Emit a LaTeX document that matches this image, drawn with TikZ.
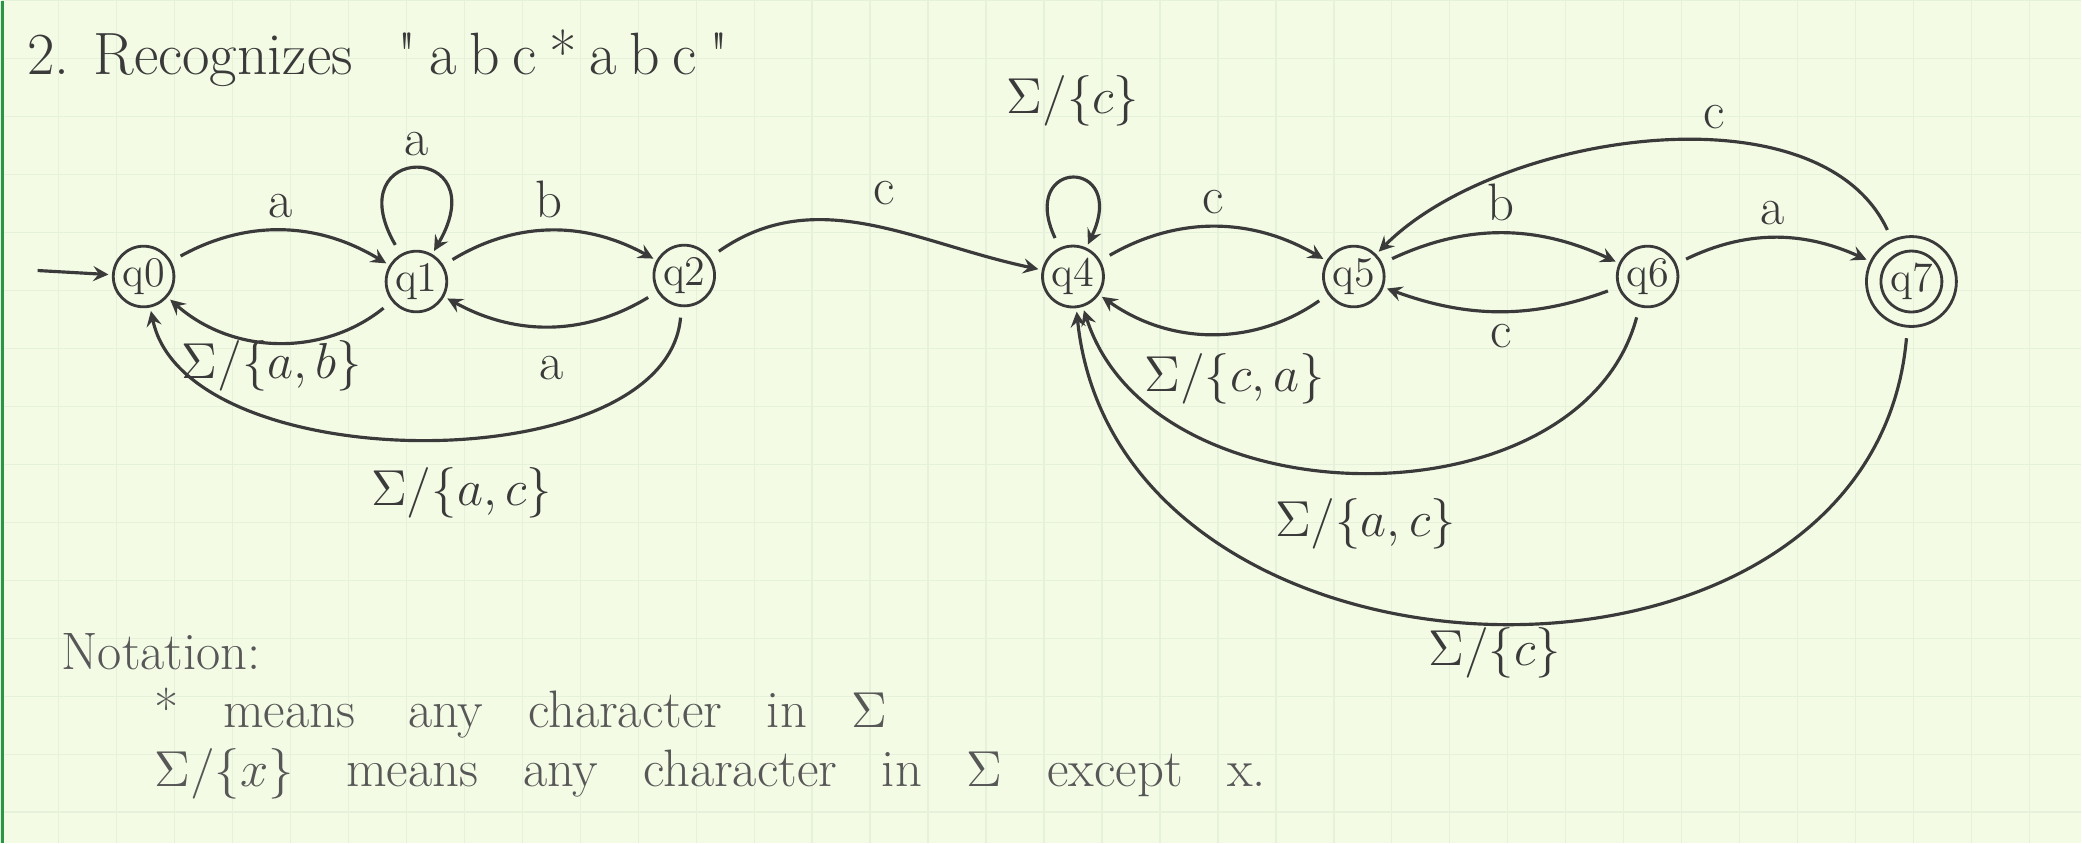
\documentclass[tikz,border=0pt]{standalone}
\usetikzlibrary{arrows}
\definecolor{paper}{RGB}{243,251,229}
\definecolor{gridline}{RGB}{229,241,219}
\definecolor{pencil}{RGB}{58,58,58}
\definecolor{margin}{RGB}{40,150,70}
\newcommand{\widespaces}{\spaceskip=0.85em\relax}

\begin{document}
\begin{tikzpicture}[
  state/.style={circle,draw=pencil,line width=0.8pt,minimum size=5.8mm,inner sep=0.5pt,text=pencil,font=\fontsize{12}{14}\selectfont},
  ring/.style={circle,draw=pencil,line width=0.8pt,minimum size=9mm,inner sep=0pt},
  trans/.style={->,>=stealth,pencil,line width=0.9pt,shorten <=3pt,shorten >=1pt},
  lab/.style={text=pencil,font=\fontsize{15}{18}\selectfont},
  note/.style={anchor=west,inner sep=0pt,text=pencil!85,font=\fontsize{15}{18}\selectfont\widespaces}
]
\fill[paper] (0,0) rectangle (20.82,-8.43);
\draw[gridline,line width=0.4pt,step=0.58] (0,0) grid (20.82,-8.43);
\fill[margin] (0,0) rectangle (0.03,-8.43);
\useasboundingbox (0,0) rectangle (20.82,-8.43);

\node[anchor=west,text=pencil,font=\fontsize{17}{20}\selectfont] (title) at (0.14,-0.58)
  {2. Recognizes\hspace{0.45cm}\textquotedbl\kern3.6pt a\kern3.6pt b\kern3.6pt c\kern3.6pt *\kern3.6pt a\kern3.6pt b\kern3.6pt c\kern3.6pt\textquotedbl};

\node[state] (q0) at (1.43,-2.76) {q0};
\node[state] (q1) at (4.16,-2.81) {q1};
\node[state] (q2) at (6.84,-2.75) {q2};
\node[state] (q4) at (10.73,-2.76) {q4};
\node[state] (q5) at (13.54,-2.76) {q5};
\node[state] (q6) at (16.48,-2.76) {q6};
\node[state] (q7) at (19.12,-2.81) {q7};
\node[ring] (q7o) at (q7) {};
\coordinate (start) at (0.37,-2.70);

\draw[trans,shorten <=0pt] (start) -- (q0);
\draw[trans] (q0) to[bend left=30] node[lab,above] (l01) {a} (q1);
\draw[trans] (q1) to[bend left=40] node[lab,below=-4pt,xshift=-2pt,font=\fontsize{14}{17}\selectfont] (l10) {$\Sigma/\{a,b\}$} (q0);
\draw[trans] (q1) to[out=120,in=60,min distance=13mm] node[lab,above] (l11) {a} (q1);
\draw[trans] (q1) to[bend left=30] node[lab,above] (l12) {b} (q2);
\draw[trans] (q2) to[bend left=30] node[lab,below=5pt] (l21) {a} (q1);
\draw[trans] (q2) to[out=-95,in=-78,looseness=0.85] node[lab,below=5pt,pos=0.45] (l20) {$\Sigma/\{a,c\}$} (q0);
\draw[trans] (q2) to[out=35,in=168] node[lab,above=3pt,pos=0.55] (l24) {c} (q4);

\draw[trans] (q4) to[out=115,in=65,min distance=10mm] node[lab,above=4mm] (l44) {$\Sigma/\{c\}$} (q4);
\draw[trans] (q4) to[bend left=30] node[lab,above] (l45) {c} (q5);
\draw[trans] (q5) to[bend left=35] node[lab,below=2pt,xshift=6pt] (l54) {$\Sigma/\{c,a\}$} (q4);
\draw[trans] (q5) to[bend left=25] node[lab,above] (l56) {b} (q6);
\draw[trans] (q6) to[bend left=20] node[lab,below] (l65) {c} (q5);
\draw[trans] (q6) to[bend left=25] node[lab,above] (l67) {a} (q7o);
\draw[trans] (q7o) to[out=115,in=45,looseness=0.85] node[lab,above,pos=0.4] (l75) {c} (q5);
\draw[trans] (q6) to[out=-105,in=-72,looseness=1.05] node[lab,below=4pt,pos=0.5] (l64) {$\Sigma/\{a,c\}$} (q4);
\draw[trans] (q7o) to[out=-95,in=-84,looseness=1.25] node[lab,below=-2pt] (l74) {$\Sigma/\{c\}$} (q4);

\node[note] (notation) at (0.6,-6.51) {Notation:};
\node[note] (star) at (1.53,-7.13) {* means\quad any character in $\Sigma$};
\node[note] (sigma) at (1.53,-7.74) {$\Sigma/\{x\}$\quad means any character in $\Sigma$ except x.};
\end{tikzpicture}
\end{document}
